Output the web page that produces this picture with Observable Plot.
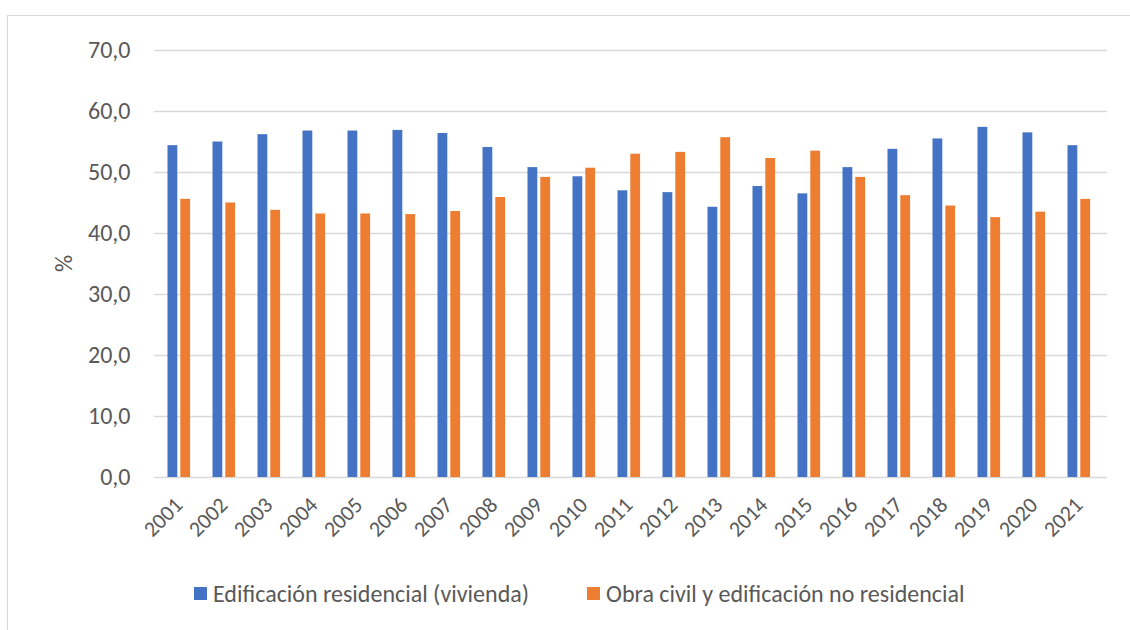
<!DOCTYPE html>
<html><head><meta charset="utf-8">
<script src="https://cdn.jsdelivr.net/npm/d3@7"></script>
<script src="https://cdn.jsdelivr.net/npm/@observablehq/plot@0.6"></script>
<style>
body{margin:0;background:#fff;font-family:Carlito,Lato,sans-serif;width:1130px;height:630px;overflow:hidden;position:relative}
#frame{position:absolute;left:7px;top:15px;width:1200px;height:700px;border:1px solid #d9d9d9;box-sizing:border-box}
#chart{position:absolute;left:0;top:0}
#ylabel{position:absolute;left:53px;top:249px;width:20px;height:29px;line-height:29px;text-align:center;font-size:24px;color:#595959;transform:rotate(-90deg);transform-origin:center}
.leg{position:absolute;top:579px;display:flex;align-items:center;font-size:24px;color:#595959;white-space:nowrap}
.sw{width:13px;height:13px;margin-right:6px;display:inline-block}
</style></head>
<body>
<div id="frame"></div>
<div id="chart"></div>
<div id="ylabel">%</div>
<div id="legend"></div>
<script>
const years = ["2001","2002","2003","2004","2005","2006","2007","2008","2009","2010","2011","2012","2013","2014","2015","2016","2017","2018","2019","2020","2021"];
const residencial = [54.4,55.0,56.2,56.8,56.8,56.9,56.4,54.1,50.8,49.3,47.0,46.7,44.3,47.7,46.5,50.8,53.8,55.5,57.4,56.5,54.4];
const noResidencial = [45.6,45.0,43.8,43.2,43.2,43.1,43.6,45.9,49.2,50.7,53.0,53.3,55.7,52.3,53.5,49.2,46.2,44.5,42.6,43.5,45.6];
const seriesNames = ["Edificación residencial (vivienda)","Obra civil y edificación no residencial"];
const seriesColors = ["#4472C4","#ED7D31"];
const yTicks = [0,10,20,30,40,50,60,70];

const resData = years.map((y,i)=>({year:y, value:residencial[i]}));
const nonData = years.map((y,i)=>({year:y, value:noResidencial[i]}));
const fmt = d => d.toFixed(1).replace(".", ",");

const chart = Plot.plot({
  width: 1130,
  height: 560,
  marginLeft: 154,
  marginRight: 23,
  marginTop: 50,
  marginBottom: 83,
  style: {fontFamily: "Carlito, Lato, sans-serif", color: "#595959", background: "transparent"},
  x: {domain: years, padding: 0},
  y: {domain: [0,70]},
  marks: [
    Plot.ruleY(yTicks, {stroke: "#d9d9d9", strokeWidth: 1.3}),
    Plot.barY(resData, {x: "year", y: "value", fill: seriesColors[0], insetLeft: 9.5, insetRight: 25.7}),
    Plot.barY(nonData, {x: "year", y: "value", fill: seriesColors[1], insetLeft: 22.3, insetRight: 12.9}),
    Plot.axisY({ticks: yTicks, tickFormat: fmt, tickSize: 0, tickPadding: 24, fontSize: 24, label: null, fill: "#595959"}),
    Plot.axisX({tickSize: 0, tickRotate: -45, tickPadding: 24, fontSize: 22, dx: -2, label: null, fill: "#595959"})
  ]
});
document.getElementById("chart").appendChild(chart);

const legend = document.getElementById("legend");
const legX = [194, 587];
seriesNames.forEach((n,i)=>{
  const d = document.createElement("div");
  d.className = "leg";
  d.style.left = legX[i] + "px";
  d.innerHTML = `<span class="sw" style="background:${seriesColors[i]}"></span><span>${n}</span>`;
  legend.appendChild(d);
});
</script>
</body></html>
